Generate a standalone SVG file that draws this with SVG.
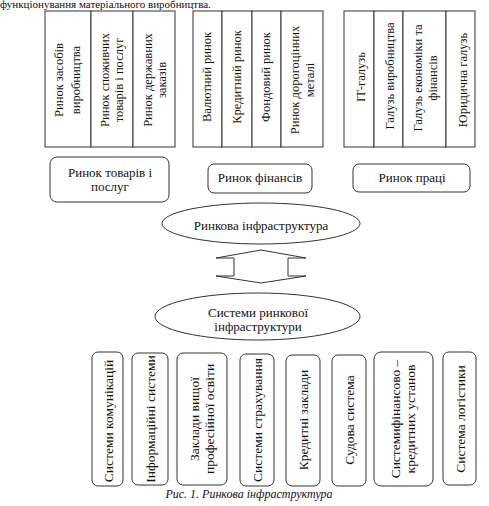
<svg xmlns="http://www.w3.org/2000/svg" width="489" height="506" viewBox="0 0 489 506" font-family="Liberation Serif, serif">
<style>
  .cell { fill: #fff; stroke: #333; stroke-width: 1; }
  .rbox { fill: #fff; stroke: #333; stroke-width: 1; }
  text { font-family: 'Liberation Serif', 'Times New Roman', serif; fill: #111; }
  .v { font-size: 12.5px; text-anchor: middle; dominant-baseline: central; }
  .vb { font-size: 13.5px; text-anchor: middle; dominant-baseline: central; }
  .h { font-size: 13px; text-anchor: middle; dominant-baseline: central; }
</style>
<rect x="0" y="0" width="489" height="506" fill="#fff"/>
<text x="0" y="8" font-size="11">функціонування матеріального виробництва.</text>

<g id="goods-markets">
  <rect class="cell" x="45" y="11" width="46" height="136"/>
  <rect class="cell" x="91" y="11" width="42" height="136"/>
  <rect class="cell" x="133" y="11" width="42" height="136"/>
  <text class="v" transform="translate(59,80) rotate(-90)">Ринок засобів</text>
  <text class="v" transform="translate(76,80) rotate(-90)">виробництва</text>
  <text class="v" transform="translate(105,80) rotate(-90)">Ринок споживчих</text>
  <text class="v" transform="translate(119,80) rotate(-90)">товарів і послуг</text>
  <text class="v" transform="translate(148,80) rotate(-90)">Ринок державних</text>
  <text class="v" transform="translate(162,80) rotate(-90)">заказів</text>
</g>

<g id="finance-markets">
  <rect class="cell" x="193" y="11" width="29" height="136"/>
  <rect class="cell" x="222" y="11" width="30" height="136"/>
  <rect class="cell" x="252" y="11" width="29" height="136"/>
  <rect class="cell" x="281" y="11" width="42" height="136"/>
  <text class="v" transform="translate(207,77) rotate(-90)">Валютний ринок</text>
  <text class="v" transform="translate(237,77) rotate(-90)">Кредитний ринок</text>
  <text class="v" transform="translate(266,77) rotate(-90)">Фондовий ринок</text>
  <text class="v" transform="translate(295,80) rotate(-90)">Ринок дорогоцінних</text>
  <text class="v" transform="translate(310,80) rotate(-90)">металі</text>
</g>

<g id="labour-markets">
  <rect class="cell" x="344" y="11" width="30" height="136"/>
  <rect class="cell" x="374" y="11" width="29" height="136"/>
  <rect class="cell" x="403" y="11" width="43" height="136"/>
  <rect class="cell" x="446" y="11" width="29" height="136"/>
  <text class="v" transform="translate(361,77) rotate(-90)">ІТ-галузь</text>
  <text class="v" transform="translate(390,76) rotate(-90)">Галузь виробництва</text>
  <text class="v" transform="translate(418,78) rotate(-90)">Галузь економіки та</text>
  <text class="v" transform="translate(433,78) rotate(-90)">фінансів</text>
  <text class="v" transform="translate(463,80) rotate(-90)">Юридична галузь</text>
</g>

<g id="goods-market">
  <rect class="rbox" x="50" y="157" width="119" height="45" rx="7"/>
  <text class="h" x="110" y="172">Ринок товарів і</text>
  <text class="h" x="110" y="186">послуг</text>
</g>
<g id="finance-market">
  <rect class="rbox" x="208" y="164" width="104" height="29" rx="6"/>
  <text class="h" x="260" y="177">Ринок фінансів</text>
</g>
<g id="labour-market">
  <rect class="rbox" x="353" y="164" width="117" height="28" rx="6"/>
  <text class="h" x="412" y="177">Ринок праці</text>
</g>

<g id="market-infrastructure">
  <ellipse class="rbox" cx="261" cy="223.5" rx="99" ry="20.5"/>
  <text class="h" x="261" y="225">Ринкова інфраструктура</text>
</g>

<g id="connectors">
  <path d="M261,250 L306,258 L288,258 L288,276 L306,276 L261,283 L216,276 L234,276 L234,258 L216,258 Z" fill="#fff" stroke="#333" stroke-width="1"/>
</g>

<g id="infrastructure-systems">
  <ellipse class="rbox" cx="257.5" cy="316.5" rx="102.5" ry="23.5"/>
  <text class="h" x="258" y="312">Системи ринкової</text>
  <text class="h" x="258" y="326">інфраструктури</text>
</g>

<g id="communications">
  <rect class="rbox" x="92" y="352" width="31" height="134" rx="6"/>
  <text class="vb" transform="translate(108,421) rotate(-90)">Системи комунікацій</text>
</g>
<g id="information">
  <rect class="rbox" x="132" y="353" width="36" height="132" rx="6"/>
  <text class="vb" transform="translate(150,419) rotate(-90)">Інформаційні системи</text>
</g>
<g id="higher-education">
  <rect class="rbox" x="177" y="353" width="50" height="132" rx="6"/>
  <text class="vb" transform="translate(194,419) rotate(-90)">Заклади вищої</text>
  <text class="vb" transform="translate(209,419) rotate(-90)">професійної освіти</text>
</g>
<g id="insurance">
  <rect class="rbox" x="240" y="354" width="34" height="132" rx="6"/>
  <text class="vb" transform="translate(257,420) rotate(-90)">Системи страхування</text>
</g>
<g id="credit">
  <rect class="rbox" x="286" y="355" width="34" height="131" rx="6"/>
  <text class="vb" transform="translate(303,420) rotate(-90)">Кредитні заклади</text>
</g>
<g id="judicial">
  <rect class="rbox" x="332" y="355" width="34" height="131" rx="6"/>
  <text class="vb" transform="translate(349,420) rotate(-90)">Судова система</text>
</g>
<g id="financial-credit">
  <rect class="rbox" x="374" y="352" width="59" height="134" rx="7"/>
  <text class="vb" transform="translate(395,419) rotate(-90)">Системифінансово –</text>
  <text class="vb" transform="translate(410,419) rotate(-90)">кредитних установ</text>
</g>
<g id="logistics">
  <rect class="rbox" x="443" y="352" width="33" height="133" rx="6"/>
  <text class="vb" transform="translate(460,419) rotate(-90)">Система логістики</text>
</g>

<text x="249" y="498" font-size="12" font-style="italic" text-anchor="middle">Рис. 1. Ринкова інфраструктура</text>
</svg>
